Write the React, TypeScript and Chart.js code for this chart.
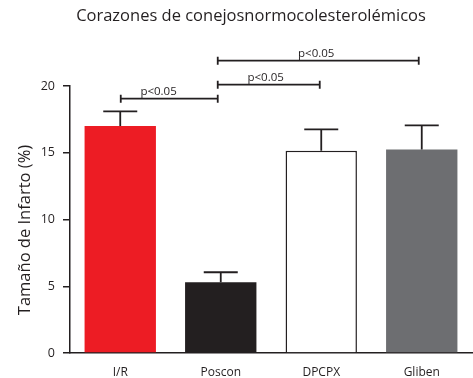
import React, { useEffect, useRef } from "react";
import { Chart, registerables } from "chart.js";

Chart.register(...registerables);

const TITLE = "Corazones de conejosnormocolesterolémicos";
const Y_TITLE = "Tamaño de Infarto (%)";
const categories = ["I/R", "Poscon", "DPCPX", "Gliben"];
const values = [17.0, 5.3, 15.15, 15.25];
const errorTops = [18.1, 6.05, 16.75, 17.05];
const barColors = ["#ED1C24", "#231F20", "#FFFFFF", "#6D6E71"];
const borderColors = ["#ED1C24", "#231F20", "#231F20", "#6D6E71"];
const borderWidths = [0, 0, 1.5, 0];
const yTicks = [0, 5, 10, 15, 20];
// significance brackets: [from category pos, to category pos, y level, label position fraction]
const bracketFrom = [0.005, 0.97, 0.97];
const bracketTo = [0.97, 1.985, 2.97];
const bracketLevel = [19.05, 20.1, 21.9];
const bracketLabelAt = [0.39, 0.47, 0.49];
const bracketLabel = ["p<0.05", "p<0.05", "p<0.05"];

const FONT = "'Open Sans', 'Noto Sans', sans-serif";

const overlayPlugin = {
  id: "overlay",
  afterDatasetsDraw(chart: any) {
    const ctx = chart.ctx;
    const xs = chart.scales.x;
    const ys = chart.scales.y;
    const meta = chart.getDatasetMeta(0);
    ctx.save();
    ctx.strokeStyle = "#231F20";
    ctx.lineWidth = 1.8;
    // error bars
    meta.data.forEach((bar: any, i: number) => {
      const x = bar.x;
      const yTop = ys.getPixelForValue(errorTops[i]);
      const yBar = ys.getPixelForValue(values[i]);
      ctx.beginPath();
      ctx.moveTo(x, yBar);
      ctx.lineTo(x, yTop);
      ctx.moveTo(x - 17, yTop);
      ctx.lineTo(x + 17, yTop);
      ctx.stroke();
    });
    // brackets
    ctx.font = `11.5px ${FONT}`;
    ctx.fillStyle = "#231F20";
    ctx.textAlign = "center";
    ctx.textBaseline = "middle";
    bracketFrom.forEach((f, i) => {
      const x1 = xs.getPixelForValue(f);
      const x2 = xs.getPixelForValue(bracketTo[i]);
      const y = ys.getPixelForValue(bracketLevel[i]);
      ctx.beginPath();
      ctx.moveTo(x1, y);
      ctx.lineTo(x2, y);
      ctx.moveTo(x1, y - 4);
      ctx.lineTo(x1, y + 4);
      ctx.moveTo(x2, y - 4);
      ctx.lineTo(x2, y + 4);
      ctx.stroke();
      ctx.fillText(bracketLabel[i], x1 + (x2 - x1) * bracketLabelAt[i], y - 7);
    });
    // title
    ctx.font = `16.5px ${FONT}`;
    ctx.fillText(TITLE, 251, 16);
    // y axis title
    ctx.save();
    ctx.translate(25, 230);
    ctx.rotate(-Math.PI / 2);
    ctx.font = `16.5px ${FONT}`;
    ctx.fillText(Y_TITLE, 0, 0);
    ctx.restore();
    ctx.restore();
  },
};

export default function App() {
  const ref = useRef<HTMLCanvasElement | null>(null);
  useEffect(() => {
    document.body.style.margin = "0";
    const chart = new Chart(ref.current as HTMLCanvasElement, {
      type: "bar",
      data: {
        labels: categories,
        datasets: [
          {
            data: values,
            backgroundColor: barColors,
            borderColor: borderColors,
            borderWidth: borderWidths,
            categoryPercentage: 1,
            barPercentage: 0.71,
          },
        ],
      },
      options: {
        animation: false,
        responsive: false,
        devicePixelRatio: 1,
        layout: { padding: { top: 86, left: 0, right: 1, bottom: 0 } },
        plugins: { legend: { display: false }, tooltip: { enabled: false }, title: { display: false } },
        scales: {
          x: {
            grid: { display: false, drawTicks: false },
            border: { display: true, color: "#231F20", width: 1.5 },
            ticks: { color: "#231F20", padding: 12, font: { family: FONT, size: 12 } },
            afterFit: (s: any) => { s.height = 25; },
          },
          y: {
            min: 0,
            max: 20,
            afterBuildTicks: (s: any) => { s.ticks = yTicks.map((v) => ({ value: v })); },
            grid: { drawOnChartArea: false, drawTicks: true, tickLength: 7, color: "#231F20", lineWidth: 1.5 },
            border: { display: true, color: "#231F20", width: 1.5 },
            ticks: { color: "#231F20", padding: 8, font: { family: FONT, size: 12.5 } },
            title: { display: false },
            afterFit: (s: any) => { s.width = 70; },
          },
        },
      },
      plugins: [overlayPlugin],
    });
    return () => chart.destroy();
  }, []);
  return (
    <div style={{ width: 473, height: 378 }}>
      <canvas ref={ref} width={473} height={378} style={{ display: "block" }} />
    </div>
  );
}
